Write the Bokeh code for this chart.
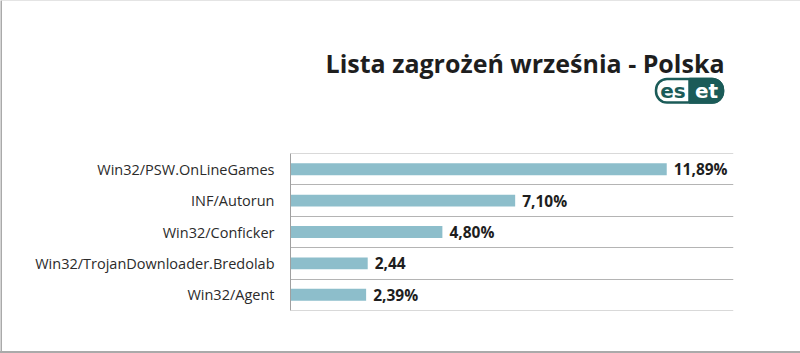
from bokeh.plotting import figure
from bokeh.models import FactorRange, Range1d, BoxAnnotation
from bokeh.layouts import row, column
from bokeh.core.properties import value
from bokeh.embed import file_html
from bokeh.resources import INLINE

# ---- data ----
categories = ["Win32/PSW.OnLineGames", "INF/Autorun", "Win32/Conficker",
              "Win32/TrojanDownloader.Bredolab", "Win32/Agent"]
values = [11.89, 7.10, 4.80, 2.44, 2.39]
value_labels = ["11,89%", "7,10%", "4,80%", "2,44", "2,39%"]
title_text = "Lista zagrożeń września - Polska"
logo_left = "es"
logo_right = "et"
x_max = 14

FONT = "Open Sans"
LOGO_FONT = "DejaVu Sans"
BAR = "#8dbecb"
TEAL = "#1b5b58"
GRID = "#b4b4b4"
EDGE = "#aaaaaa"

W, H = 800, 353
LB = 2          # left border width
BB = 2          # bottom border height
TB = 1          # top border height
TOP_H = 153     # header bottom (page y)
FL, FR, FT, FB = 290, 733, 153, 310  # chart frame edges in page pixels

# ---------- left border strip ----------
left_strip = figure(width=LB, height=H - BB, min_border=0, toolbar_location=None,
                    output_backend="svg", outline_line_color=None,
                    background_fill_color=EDGE, border_fill_color=EDGE,
                    x_axis_type=None, y_axis_type=None)
left_strip.grid.visible = False

# ---------- header (page pixel coordinates inside frame) ----------
head = figure(width=W - LB, height=TOP_H - TB,
              min_border_left=FL - LB, min_border_right=W - FR,
              min_border_top=0, min_border_bottom=0,
              toolbar_location=None, output_backend="svg", outline_line_color=None,
              x_range=Range1d(FL, FR), y_range=Range1d(TOP_H, TB),
              background_fill_color="white", border_fill_color="white",
              x_axis_type=None, y_axis_type=None)
head.grid.visible = False
head.text(x=[724], y=[62], text=[title_text], text_font=value(FONT),
          text_font_style="bold", text_font_size="25px", text_color="#1e1e1e",
          text_align="right", text_baseline="alphabetic")
# ESET logo
head.add_layout(BoxAnnotation(left=655.5, right=722.5, top=78.5, bottom=102,
                              fill_color="white", fill_alpha=1, line_color=TEAL,
                              line_alpha=1, line_width=2.5, border_radius=11,
                              level="underlay"))
head.add_layout(BoxAnnotation(left=689, right=722.5, top=78.5, bottom=102,
                              fill_color=TEAL, fill_alpha=1, line_color=TEAL,
                              line_alpha=1, line_width=2.5,
                              border_radius=(0, 11, 11, 0), level="underlay"))
head.text(x=[672.5], y=[90.5], text=[logo_left], text_font=value(LOGO_FONT),
          text_font_style="bold", text_font_size="20px", text_color=TEAL,
          text_align="center", text_baseline="middle")
head.text(x=[706], y=[90.5], text=[logo_right], text_font=value(LOGO_FONT),
          text_font_style="bold", text_font_size="20px", text_color="white",
          text_align="center", text_baseline="middle")

# ---------- chart ----------
factors = categories[::-1]
p = figure(y_range=FactorRange(factors=factors, range_padding=0),
           x_range=Range1d(0, x_max),
           frame_width=FR - FL, frame_height=FB - FT,
           min_border_left=FL - LB, min_border_right=W - FR,
           min_border_top=FT - TOP_H, min_border_bottom=H - BB - FB,
           output_backend="svg", toolbar_location=None,
           background_fill_color="white", border_fill_color="white",
           outline_line_color=None)

p.xaxis.visible = False
p.xgrid.visible = False
p.ygrid.visible = False

ax = p.yaxis[0]
ax.axis_line_color = "#a0a0a0"
ax.axis_line_width = 1
ax.major_tick_line_color = None
ax.minor_tick_line_color = None
ax.major_label_standoff = 10
ax.major_label_text_font = FONT
ax.major_label_text_font_size = "14.5px"
ax.major_label_text_color = "#2b2b2b"

# row separators at category boundaries
p.hspan(y=list(range(len(categories) + 1)), line_color=GRID, line_width=1)

p.hbar(y=categories, right=values, left=0, height=0.38,
       fill_color=BAR, line_color=None)

p.text(x=values, y=categories, text=value_labels, x_offset=7,
       text_font=value(FONT), text_font_style="bold", text_font_size="15.5px",
       text_color="#1e1e1e", text_baseline="middle", text_align="left")

right_part = column(head, p, spacing=0,
                    styles={"border-top": f"{TB}px solid #e4e4e4"})
layout = row(left_strip, right_part, spacing=0,
             styles={"border-bottom": f"{BB}px solid {EDGE}"})

open("out.html", "w").write(file_html(layout, INLINE))
